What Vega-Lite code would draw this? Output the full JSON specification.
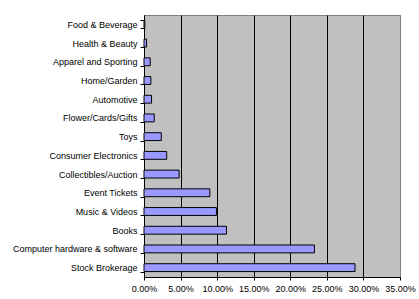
{
  "$schema": "https://vega.github.io/schema/vega-lite/v6.json",
  "autosize": {"type": "none"},
  "padding": {"left": 144, "top": 15, "right": 19, "bottom": 22},
  "width": 256,
  "height": 262,
  "background": "#ffffff",
  "config": {
    "view": {"fill": "#C0C0C0", "stroke": "#808080", "strokeWidth": 1},
    "font": "Liberation Sans",
    "axis": {"labelFont": "Liberation Sans", "labelFontSize": 9, "labelColor": "#000000", "domainColor": "#000000", "tickColor": "#000000"}
  },
  "data": {
    "values": [
      {"category": "Food & Beverage", "share": 0.0012},
      {"category": "Health & Beauty", "share": 0.0035},
      {"category": "Apparel and Sporting", "share": 0.0085},
      {"category": "Home/Garden", "share": 0.0094},
      {"category": "Automotive", "share": 0.0103},
      {"category": "Flower/Cards/Gifts", "share": 0.014},
      {"category": "Toys", "share": 0.0236},
      {"category": "Consumer Electronics", "share": 0.031},
      {"category": "Collectibles/Auction", "share": 0.048},
      {"category": "Event Tickets", "share": 0.09},
      {"category": "Music & Videos", "share": 0.099},
      {"category": "Books", "share": 0.1128},
      {"category": "Computer hardware & software", "share": 0.233},
      {"category": "Stock Brokerage", "share": 0.2885}
    ]
  },
  "mark": {"type": "bar", "fill": "#9999FF", "stroke": "#000000", "strokeWidth": 1},
  "encoding": {
    "y": {
      "field": "category",
      "type": "nominal",
      "sort": null,
      "scale": {"paddingInner": 0.58, "paddingOuter": 0.29},
      "axis": {
        "title": null,
        "tickBand": "extent",
        "tickSize": 4,
        "labelPadding": 3,
        "grid": false,
        "domainWidth": 1
      }
    },
    "x": {
      "field": "share",
      "type": "quantitative",
      "scale": {"domain": [0, 0.35], "nice": false},
      "axis": {
        "title": null,
        "format": ".2%",
        "values": [0, 0.05, 0.1, 0.15, 0.2, 0.25, 0.3, 0.35],
        "grid": true,
        "gridColor": {"condition": {"test": "datum.value >= 0.349", "value": "#808080"}, "value": "#000000"},
        "gridWidth": 1,
        "gridOpacity": 1,
        "tickSize": 3,
        "labelPadding": 4,
        "labelFlush": false
      }
    }
  }
}
